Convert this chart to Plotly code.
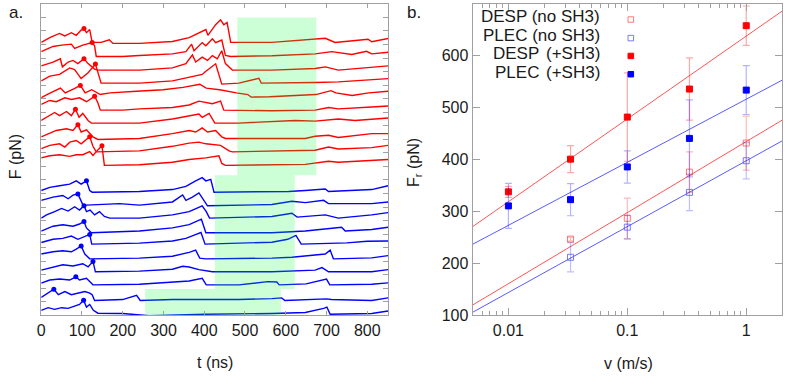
import plotly.graph_objects as go

W, H = 787, 384

# ---------------- panel a : force traces ----------------
red_t = [
    [0, 21, 45, 58, 74, 86, 98, 105, 111, 119, 125, 147, 167, 176, 241, 322, 363, 404, 409, 428, 440, 448, 456, 465, 566, 672, 697, 721, 802, 811, 851],
    [0, 29, 50, 74, 82, 102, 125, 131, 135, 200, 241, 322, 355, 369, 375, 395, 404, 420, 428, 443, 452, 465, 566, 672, 713, 762, 798, 811, 851],
    [0, 29, 47, 52, 66, 78, 90, 105, 115, 131, 139, 241, 322, 355, 371, 379, 395, 408, 420, 432, 443, 452, 469, 566, 672, 697, 729, 802, 851],
    [0, 21, 45, 70, 82, 98, 115, 133, 147, 241, 322, 363, 395, 404, 428, 443, 485, 534, 540, 672, 729, 851],
    [0, 14, 47, 59, 80, 96, 108, 124, 145, 169, 234, 299, 348, 389, 405, 438, 479, 507, 515, 560, 674, 711, 723, 763, 804, 851],
    [0, 21, 37, 58, 74, 94, 111, 131, 139, 145, 200, 241, 322, 363, 387, 404, 420, 440, 448, 566, 672, 705, 729, 811, 851],
    [0, 33, 45, 62, 74, 84, 93, 102, 115, 123, 241, 322, 387, 395, 412, 426, 485, 623, 672, 729, 770, 851],
    [0, 21, 37, 62, 78, 90, 98, 111, 127, 139, 241, 322, 363, 379, 395, 408, 428, 443, 452, 648, 672, 705, 729, 811, 851],
    [0, 21, 45, 58, 70, 86, 98, 111, 119, 127, 135, 241, 322, 363, 387, 404, 440, 461, 469, 672, 705, 729, 811, 851],
    [0, 21, 45, 70, 86, 102, 119, 127, 139, 149, 155, 241, 322, 363, 404, 436, 443, 452, 648, 672, 705, 729, 811, 851],
]
red_F = [
    [0, 50, 93, 67, 100, 73, 127, 143, 100, 133, 0, 0, 27, -10, -10, 10, 50, 133, 73, 183, 233, 183, 207, 0, 0, 33, 43, 0, 33, 7, 40],
    [50, 103, 117, 127, 83, 117, 143, 110, 0, 0, 10, 27, 50, 127, 60, 143, 110, 183, 143, 170, 10, 0, 7, 27, 50, 20, 53, 27, 43],
    [43, 83, 117, 33, 83, 100, 67, 117, 67, 10, 0, 0, 23, 67, 157, 83, 133, 100, 150, 117, 200, 67, 0, 0, 17, 33, 0, 23, 43],
    [23, 73, 90, 157, 140, 47, 107, 197, 0, 0, 23, 57, 90, 123, 200, -10, 0, 50, 0, 7, 13, 47],
    [-10, 23, 90, 40, 83, 117, 40, 73, 23, 40, 57, 73, 97, 130, 90, 73, 40, 23, -3, 0, 23, 63, 40, 13, 40, 57],
    [60, 100, 87, 127, 110, 127, 87, 143, 77, 0, 0, 13, 27, 53, 93, 77, 67, 93, 0, -7, 0, 27, 13, 33, 43],
    [27, 110, 77, 120, 77, 143, 60, 100, 27, 0, 0, 43, 93, 60, 100, 0, 0, 27, 20, 43, 27, 53],
    [17, 50, 83, 100, 83, 143, 67, 90, 17, -10, 0, 50, 83, 67, 110, 67, 83, 17, 0, 0, 23, 33, 10, 50, 50],
    [33, 67, 83, 50, 100, 117, 83, 123, 157, 57, 0, 10, 57, 90, 100, 83, 67, 10, 0, 17, 50, 30, 43, 67],
    [77, 100, 110, 93, 110, 110, 143, 103, 160, 203, 0, 7, 33, 60, 77, 100, 20, 0, 10, 27, 43, 33, 53, 60],
]
red_peak_t = [105, 125, 105, 133, 96, 131, 84, 90, 119, 149]
red_peak_F = [143, 143, 117, 197, 117, 143, 143, 143, 157, 203]
red_base = [2822, 2677, 2536, 2401, 2260, 2122, 1988, 1829, 1691, 1551]

blue_t = [
    [0, 21, 45, 70, 86, 98, 111, 119, 125, 241, 322, 355, 379, 395, 404, 416, 424, 485, 607, 648, 697, 705, 811, 851],
    [0, 29, 53, 66, 78, 90, 102, 111, 192, 241, 322, 347, 355, 371, 387, 397, 408, 566, 615, 648, 693, 705, 811, 851],
    [0, 13, 33, 50, 66, 82, 94, 105, 111, 120, 131, 143, 155, 168, 241, 322, 363, 395, 405, 413, 566, 615, 628, 697, 729, 811, 851],
    [0, 29, 53, 78, 94, 105, 111, 123, 241, 322, 363, 379, 393, 404, 566, 648, 737, 746, 811, 851],
    [0, 29, 53, 74, 90, 111, 119, 124, 241, 322, 355, 380, 392, 402, 485, 566, 605, 625, 638, 700, 750, 800, 851],
    [0, 29, 53, 74, 86, 98, 107, 119, 241, 322, 363, 379, 389, 404, 566, 615, 697, 709, 717, 811, 851],
    [0, 29, 53, 78, 102, 115, 127, 133, 241, 322, 347, 363, 387, 420, 566, 672, 689, 705, 811, 851],
    [0, 21, 45, 70, 85, 94, 111, 119, 127, 241, 322, 363, 395, 405, 485, 530, 556, 578, 584, 650, 700, 708, 811, 851],
    [0, 17, 31, 42, 58, 74, 94, 107, 119, 125, 131, 200, 234, 243, 322, 485, 566, 590, 598, 700, 712, 811, 851],
    [0, 17, 33, 50, 66, 82, 94, 104, 111, 119, 128, 139, 200, 265, 322, 404, 566, 648, 693, 701, 709, 811, 851],
]
blue_F = [
    [17, 50, 67, 83, 117, 83, 117, 17, 0, 7, 27, 60, 117, 150, 117, 133, 0, 0, 7, 17, 33, 7, 27, 67],
    [57, 90, 107, 73, 110, 123, 13, 7, 23, 7, 40, 113, 57, 90, 133, 73, 0, 13, 47, 33, 57, 23, 23, 40],
    [0, 33, 67, 100, 73, 117, 83, 127, 67, 83, 33, 67, 17, 0, 0, 33, 67, 127, 67, 0, 17, 50, 10, 33, 0, 33, 57],
    [17, 67, 83, 67, 90, 117, 50, 0, 17, 50, 83, 110, 140, 0, 0, 17, 57, 17, 33, 57],
    [17, 50, 60, 83, 50, 83, 100, 0, 10, 33, 60, 100, 120, 0, 7, 20, 50, 90, 0, 10, 13, 30, 33],
    [50, 73, 83, 73, 100, 133, 50, 0, 7, 27, 67, 90, 7, 0, 7, 17, 50, 90, 0, 10, 33],
    [17, 50, 73, 60, 83, 50, 107, 0, 7, 27, 57, 50, 23, 0, 0, 17, 43, 0, 0, 23],
    [17, 50, 60, 50, 83, 50, 67, 33, 0, 7, 33, 40, 67, 0, 0, 17, 33, 30, 0, 10, 60, 0, 7, 20],
    [33, 77, 117, 60, 93, 60, 77, 93, 77, 60, 0, 10, 53, 0, 10, 10, 20, 27, 0, 17, 10, 0, 27],
    [40, 67, 50, 67, 60, 83, 100, 143, 73, 100, 40, 10, 7, -17, -7, 0, 7, 17, 60, 73, 0, 7, 33],
]
blue_peak_t = [111, 90, 105, 105, 119, 98, 127, 85, 31, 104]
blue_peak_F = [117, 123, 127, 117, 100, 133, 107, 83, 117, 143]
blue_base = [1274, 1133, 1006, 855, 737, 585, 451, 316, 154, 13]

# highlighted windows (t range, F range)
win_t0 = [481, 426, 255]
win_t1 = [675, 622, 588]
win_F0 = [1450, 273, 0]
win_F1 = [3080, 1450, 273]

# ---------------- panel b : rupture force vs speed ----------------
v = [0.01, 0.0333, 0.1, 0.333, 1.0]
desp_sh3 = [338, 401, 482, 536, 658]
desp_sh3_err = [10.5, 26, 85, 60, 38]
plec_sh3 = [311, 323, 386, 441, 534]
plec_sh3_err = [43.5, 31, 31, 74, 47]
v_nosh3 = [0.0333, 0.1, 0.333, 1.0]
desp_nosh3 = [247, 287, 376, 432]
desp_nosh3_err = [4, 39, 39, 52]
plec_nosh3 = [212, 270, 337, 398]
plec_nosh3_err = [28, 23, 35, 35]

fit_v = [0.005, 2.0]
fit_desp_sh3 = [271, 686]
fit_plec_sh3 = [237, 553]
fit_desp_nosh3 = [120, 476]
fit_plec_nosh3 = [106, 436]

legend_labels = ["DESP (no SH3)", "PLEC (no SH3)", "DESP", "PLEC"]

# ---------------- figure ----------------
FONT = "Liberation Sans, Arial, sans-serif"
TXT = "#1a1a1a"
RED, BLUE = "#ff0000", "#0000ff"
fig = go.Figure()

for k in range(len(red_t)):
    fig.add_trace(go.Scatter(x=red_t[k], y=[f + red_base[k] for f in red_F[k]], mode="lines",
                             line=dict(color=RED, width=1.4), xaxis="x", yaxis="y", showlegend=False))
for k in range(len(blue_t)):
    fig.add_trace(go.Scatter(x=blue_t[k], y=[f + blue_base[k] for f in blue_F[k]], mode="lines",
                             line=dict(color=BLUE, width=1.4), xaxis="x", yaxis="y", showlegend=False))
fig.add_trace(go.Scatter(x=red_peak_t, y=[f + b for f, b in zip(red_peak_F, red_base)], mode="markers",
                         marker=dict(color=RED, size=5), xaxis="x", yaxis="y", showlegend=False))
fig.add_trace(go.Scatter(x=blue_peak_t, y=[f + b for f, b in zip(blue_peak_F, blue_base)], mode="markers",
                         marker=dict(color=BLUE, size=5), xaxis="x", yaxis="y", showlegend=False))

# fit lines
for ys, col in [(fit_desp_sh3, "#ff5555"), (fit_plec_sh3, "#5a5aff"),
                (fit_desp_nosh3, "#ff5555"), (fit_plec_nosh3, "#5a5aff")]:
    fig.add_trace(go.Scatter(x=fit_v, y=ys, mode="lines", line=dict(color=col, width=1),
                             xaxis="x2", yaxis="y2", showlegend=False))

def pts(xs, ys, err, mcol, ecol, sym):
    fig.add_trace(go.Scatter(
        x=xs, y=ys, mode="markers", xaxis="x2", yaxis="y2", showlegend=False,
        error_y=dict(type="data", array=err, color=ecol, thickness=1.2, width=3.5),
        marker=dict(symbol=sym, size=6, color=mcol, line=dict(color=mcol, width=1))))

pts(v_nosh3, desp_nosh3, desp_nosh3_err, "rgba(255,90,90,0.8)", "rgba(255,0,0,0.28)", "square-open")
pts(v_nosh3, plec_nosh3, plec_nosh3_err, "rgba(90,90,255,0.8)", "rgba(0,0,255,0.25)", "square-open")
pts(v, desp_sh3, desp_sh3_err, RED, "rgba(255,0,0,0.35)", "square")
pts(v, plec_sh3, plec_sh3_err, BLUE, "rgba(0,0,255,0.3)", "square")

# domains (paper)
xa_dom = [37.4 / W, 386 / W]
xb_dom = [471 / W, 782 / W]
y_dom = [(H - 323) / H, (H - 4) / H]

axis_common = dict(showgrid=False, zeroline=False, showline=True, linecolor="#a0a0a0", linewidth=1,
                   mirror="ticks", ticks="inside", tickcolor="#a0a0a0",
                   tickfont=dict(family=FONT, size=16, color=TXT))

shapes = []
for a, b, c, d in zip(win_t0, win_t1, win_F0, win_F1):
    shapes.append(dict(type="rect", xref="x", yref="y", x0=a, x1=b, y0=c, y1=d,
                       fillcolor="rgba(0,255,50,0.2)", line=dict(width=0), layer="above"))

def px(xp): return xp / W
def py(yp): return 1 - yp / H

# legend markers (panel b)
leg_y = [20, 39, 57.3, 76]
leg_style = [("rgba(255,90,90,0.8)", None), ("rgba(90,90,255,0.8)", None), (RED, RED), (BLUE, BLUE)]
for yy, (lc, fc) in zip(leg_y, leg_style):
    shapes.append(dict(type="rect", xref="paper", yref="paper",
                       x0=px(630 - 2.8), x1=px(630 + 2.8), y0=py(yy + 2.8), y1=py(yy - 2.8),
                       line=dict(color=lc, width=1), fillcolor=fc if fc else "rgba(0,0,0,0)"))

ann = []
def text(x, y, s, size=16, xanchor="center", angle=0):
    ann.append(dict(x=px(x), y=py(y), xref="paper", yref="paper", text=s, showarrow=False,
                    xanchor=xanchor, yanchor="middle", textangle=angle,
                    font=dict(family=FONT, size=size, color=TXT)))

text(12, 13, "a.", 17)
text(412, 13, "b.", 17)
text(11, 160, "F (pN)", 16, angle=-90)
text(412, 166, "F<sub>r</sub> (pN)", 16, angle=-90)
text(212, 371, "t (ns)", 16)
text(628, 372, "v (m/s)", 16)
text(601, 17, legend_labels[0], 17, xanchor="right")
text(601, 36, legend_labels[1], 17, xanchor="right")
text(489, 55, legend_labels[2], 17, xanchor="left")
text(601, 55, "(+SH3)", 17, xanchor="right")
text(491, 74, legend_labels[3], 17, xanchor="left")
text(601, 74, "(+SH3)", 17, xanchor="right")

fig.update_layout(
    width=W, height=H, margin=dict(l=0, r=0, t=0, b=0),
    paper_bgcolor="white", plot_bgcolor="white", showlegend=False,
    xaxis=dict(axis_common, domain=xa_dom, range=[0, 851], tickvals=[0, 100, 200, 300, 400, 500, 600, 700, 800],
               ticklen=4, anchor="y"),
    yaxis=dict(axis_common, domain=y_dom, range=[0, 3220], dtick=140, tick0=0, ticklen=5,
               showticklabels=False, anchor="x"),
    xaxis2=dict(axis_common, domain=xb_dom, type="log", range=[-2.301, 0.301],
                tickmode="linear", tick0=0, dtick=1, ticklen=7, anchor="y2",
                minor=dict(ticks="inside", ticklen=4, tickcolor="#a0a0a0", showgrid=False, dtick="D1")),
    yaxis2=dict(axis_common, domain=y_dom, range=[100, 700], tickvals=[100, 200, 300, 400, 500, 600],
                ticklen=7, anchor="x2"),
    shapes=shapes, annotations=ann,
)

fig.write_html("out.html", config={"displayModeBar": False},
               post_script="document.body.style.margin='0';document.body.style.overflow='hidden';")
